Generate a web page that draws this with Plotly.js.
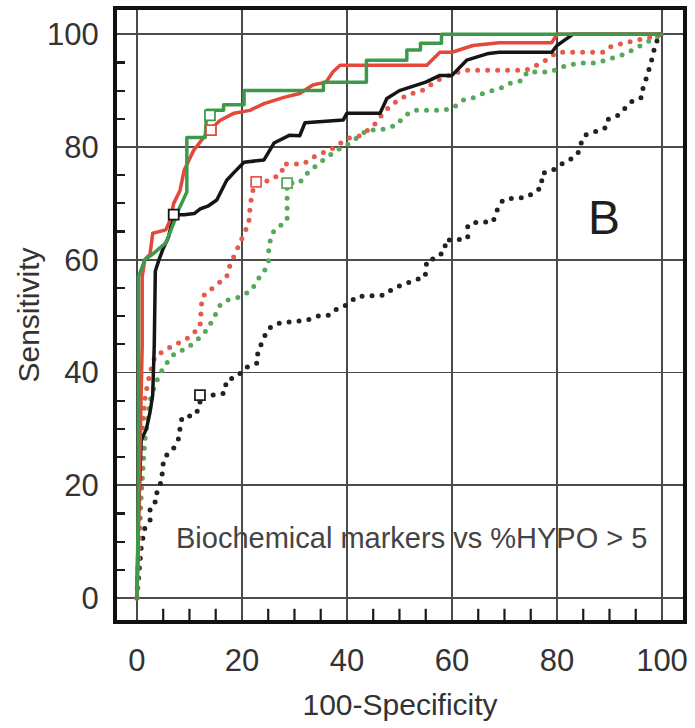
<!DOCTYPE html>
<html>
<head>
<meta charset="utf-8">
<script src="https://cdn.plot.ly/plotly-3.0.1.min.js"></script>
<style>
  html, body { margin: 0; padding: 0; background: #fff; }
  #chart { width: 695px; height: 728px; }
  path.js-line { stroke-linecap: round !important; stroke-linejoin: round !important; }
</style>
</head>
<body>
<div id="chart"></div>
<script>
// ---- Data ----
const blackSolidX = [0,0.3,0.8,1.8,2.5,3,3.3,3.5,4.2,5,6,6.5,7,9,10.9,12,13.5,15.2,16.2,17.1,18.5,20.4,24.2,26.1,29.1,31,32,39.3,40,46.3,47.6,50,55,57.7,60,62.8,67,69,79,80,82,83,100];
const blackSolidY = [0,15,28,30,33,36,45,58,60,62,64,66,68,68,68.2,69,69.5,70.6,72.3,74.1,75.5,77.3,77.7,80.7,82.1,82,84.3,84.8,86,86,88.6,90,91.5,92.7,92.7,95.4,96.6,96.8,96.8,98,99.3,100,100];

const redSolidX = [0,0.2,0.5,0.8,1,1,1.5,2.5,3,5.5,6.3,7,8.2,9,10.8,13.3,15.8,18.5,21.5,24.2,28,31,33.5,36,37.3,38.7,55.2,57.7,60,64,69,79,80,100];
const redSolidY = [0,10,25,36,45,57,60,61,64.7,65.3,67,70,72.3,75.9,79.4,82.4,84.7,86,86.5,87.7,88.8,89.5,91,91.5,93.3,94.5,94.5,96.8,96.8,98,98.5,98.5,100,100];

const greenSolidX = [0,0.3,0.3,1.5,3,5.5,6.8,8,9.5,9.5,13,13.3,16.5,16.5,20.4,20.4,35.5,35.5,43.7,43.7,51.4,51.4,54,54,58,58,100];
const greenSolidY = [0,20,57,60,61,63,66,69,72,81.7,81.7,86.5,86.5,87.5,87.5,90,90,91.5,91.5,95.4,95.4,97.2,97.2,98.4,98.4,100,100];

const redDotX = [0,0.3,0.6,1,1.6,2.5,3.4,5.3,7.2,9.5,12,12.4,13.9,15.2,17.1,17.7,18.7,19.6,20.6,21.3,21.5,21.9,22.7,25,27.6,27.8,31.7,33.6,35.5,37.4,40,42.5,45,46.9,48.5,51.4,54.5,57.1,59.6,62.1,74,77.3,80,88.8,90,92.6,97.7,100];
const redDotY = [0,10,20,30,36,40,42.7,44,44.9,46,48,53.4,54.6,55.5,57,59,61,63,64.7,66.5,68.8,71.8,73.8,74,75.3,77,77,78.2,79,79.8,81.5,82,83.7,86,87.5,89.2,90.1,91.8,92.7,93.6,93.6,95,96.8,96.8,97.7,98.4,99.5,100];

const greenDotX = [0,0.3,0.8,1.5,2.5,3.5,5.1,7.2,9.5,11.4,13.3,14.7,15.8,17.1,19.6,21.9,22.9,24.2,25.1,25.1,26.1,28.6,28.7,28.6,30.9,32.4,34.9,38,40.6,43.8,46.3,49.5,50.7,52.6,58.3,60.2,62.1,64,65.9,67.6,69.7,71,73.5,74.3,78.7,81.9,85,87.6,89.5,93,96,100];
const greenDotY = [0,8,18,28,35,38,41,43.4,44.3,45.7,47.5,49.8,51.9,52.8,53.4,54.6,56.4,57.8,59.9,62.6,65.2,67,71,73.6,73.6,75.3,77.3,79.4,80.7,83,83,83.9,85.3,86.5,86.5,86.9,88.3,88.7,89.5,90,90.6,91.3,91.8,93.3,93.3,94.5,94.9,94.9,95.4,96.5,98,100];

const blackDotX = [0,0.2,0.5,0.8,1.5,2.5,2.5,3.8,3.8,4.8,4.8,5.3,7,8,8.2,8.6,11,12,12,14.7,16.6,17.1,19,20.6,23,23,24,24.8,26,27.6,29.7,32.4,34.5,36.8,38,40,41.9,47,49,51,53,54.9,55,55.2,57.1,58.7,58.7,60.9,63,63,64.8,67.8,68.6,69.7,71.6,74.3,75.4,77.1,77.1,79.2,81.1,82.9,84,84.4,85.3,86.7,89.1,89.5,91.6,93,94.5,96.2,96.4,97.1,97.7,98.3,98.7,100];
const blackDotY = [0,3,6,9,12.4,13.8,16,17.4,19.1,20.9,23,25,26.6,28.4,30.1,32.1,32.4,34,36,36,36.3,38.7,39.2,40.8,41.7,43.6,45.7,47.5,48.4,48.9,49,49.3,50,50.2,51.2,52,53.5,53.7,55,55.8,56.4,57,58.5,59.9,60.3,61.7,63.5,63.5,63.8,66.1,66.7,66.7,68.8,70.6,70.9,71.1,71.8,72.9,75.3,75.9,77.1,78,78.9,80.3,82.1,82.6,83.3,84.8,85.6,86.9,88.3,88.8,90.6,92.4,94.1,96.3,98.4,100];

// cut-off points (open squares)
const cutoffX = [7, 14.1, 13.9, 22.7, 28.6, 12];
const cutoffY = [68, 83.0, 85.6, 73.8, 73.6, 36];
const cutoffColors = ['#151515', '#e4483a', '#3c9a4a', '#e65a4c', '#58a85c', '#222222'];

// axis ticks: major (labelled, with grid) and minor (short inside ticks)
const xTicks = [0, 20, 40, 60, 80, 100];
const yTicks = [0, 20, 40, 60, 80, 100];
const minorTicks = [5,10,15,25,30,35,45,50,55,65,70,75,85,90,95];

// ---- Styles ----
const BLACK = '#151515', RED = '#e4483a', GREEN = '#3c9a4a';
const RED_DOT = '#e65a4c', GREEN_DOT = '#58a85c', BLACK_DOT = '#222222';
const DOT_DASH = '0px,10px';
const TICK_LEN = 8;
const XR = [-3.8, 104], YR = [-3.9, 104.3];

const traces = [
  {x: blackDotX, y: blackDotY, mode: 'lines', line: {color: BLACK_DOT, width: 5, dash: DOT_DASH}},
  {x: greenDotX, y: greenDotY, mode: 'lines', line: {color: GREEN_DOT, width: 5, dash: DOT_DASH}},
  {x: redDotX, y: redDotY, mode: 'lines', line: {color: RED_DOT, width: 5, dash: DOT_DASH}},
  {x: blackSolidX, y: blackSolidY, mode: 'lines', line: {color: BLACK, width: 3.5}},
  {x: redSolidX, y: redSolidY, mode: 'lines', line: {color: RED, width: 3.5}},
  {x: greenSolidX, y: greenSolidY, mode: 'lines', line: {color: GREEN, width: 3.5}},
  {x: cutoffX, y: cutoffY, mode: 'markers',
   marker: {symbol: 'square', size: 10, color: '#ffffff', line: {color: cutoffColors, width: 1.8}}},
  // bottom minor ticks: vertical line markers centred on the bottom edge; the half outside is clipped
  {x: minorTicks, y: minorTicks.map(() => YR[0]), mode: 'markers', cliponaxis: true, hoverinfo: 'skip',
   marker: {symbol: 'line-ns', size: TICK_LEN * 2, line: {color: '#1a1a1a', width: 2.2}}}
];

const FONT = '"Liberation Sans", Arial, Helvetica, sans-serif';

const axisCommon = (ticks) => ({
  tickmode: 'array', tickvals: ticks, ticktext: ticks.map(String),
  showgrid: true, gridcolor: '#4a4a4a', gridwidth: 1.6,
  zeroline: true, zerolinecolor: '#4a4a4a', zerolinewidth: 1.6,
  showline: true, linecolor: '#111111', linewidth: 4, mirror: true,
  ticks: '',
  tickfont: {size: 31, color: '#333333', family: FONT},
  fixedrange: true
});

// left minor ticks drawn by an overlay y axis sharing the main range
const layout = {
  width: 695, height: 728,
  margin: {l: 117, r: 12, t: 10, b: 108},
  paper_bgcolor: '#ffffff', plot_bgcolor: '#ffffff',
  showlegend: false,
  font: {family: FONT, color: '#333333'},
  xaxis: Object.assign(axisCommon(xTicks), {
    range: XR, ticklabelstandoff: 10,
    title: {text: '100-Specificity', font: {size: 30, color: '#333333', family: FONT}, standoff: 18}
  }),
  yaxis: Object.assign(axisCommon(yTicks), {
    range: YR, ticklabelstandoff: 8,
    title: {text: 'Sensitivity', font: {size: 30, color: '#333333', family: FONT}, standoff: 0}
  }),
  yaxis2: {
    range: YR, tickmode: 'array', tickvals: minorTicks, showticklabels: false,
    ticks: 'inside', ticklen: TICK_LEN, tickwidth: 2.2, tickcolor: '#1a1a1a',
    showgrid: false, zeroline: false, showline: false, fixedrange: true,
    overlaying: 'y', anchor: 'x', side: 'left', layer: 'above traces'
  },
  annotations: [
    {x: 89, y: 67.5, xref: 'x', yref: 'y', text: 'B', showarrow: false,
     font: {size: 48, color: '#1e1e1e', family: FONT}},
    {x: 52.2, y: 10.6, xref: 'x', yref: 'y', text: 'Biochemical markers vs %HYPO &gt; 5', showarrow: false,
     font: {size: 29, color: '#444444', family: FONT}}
  ]
};

// invisible trace so the overlay y axis is drawn
traces.push({x: cutoffX, y: cutoffY, xaxis: 'x', yaxis: 'y2', mode: 'markers',
             marker: {opacity: 0}, hoverinfo: 'skip', showlegend: false});

Plotly.newPlot('chart', traces, layout, {staticPlot: true, displayModeBar: false});
</script>
</body>
</html>
